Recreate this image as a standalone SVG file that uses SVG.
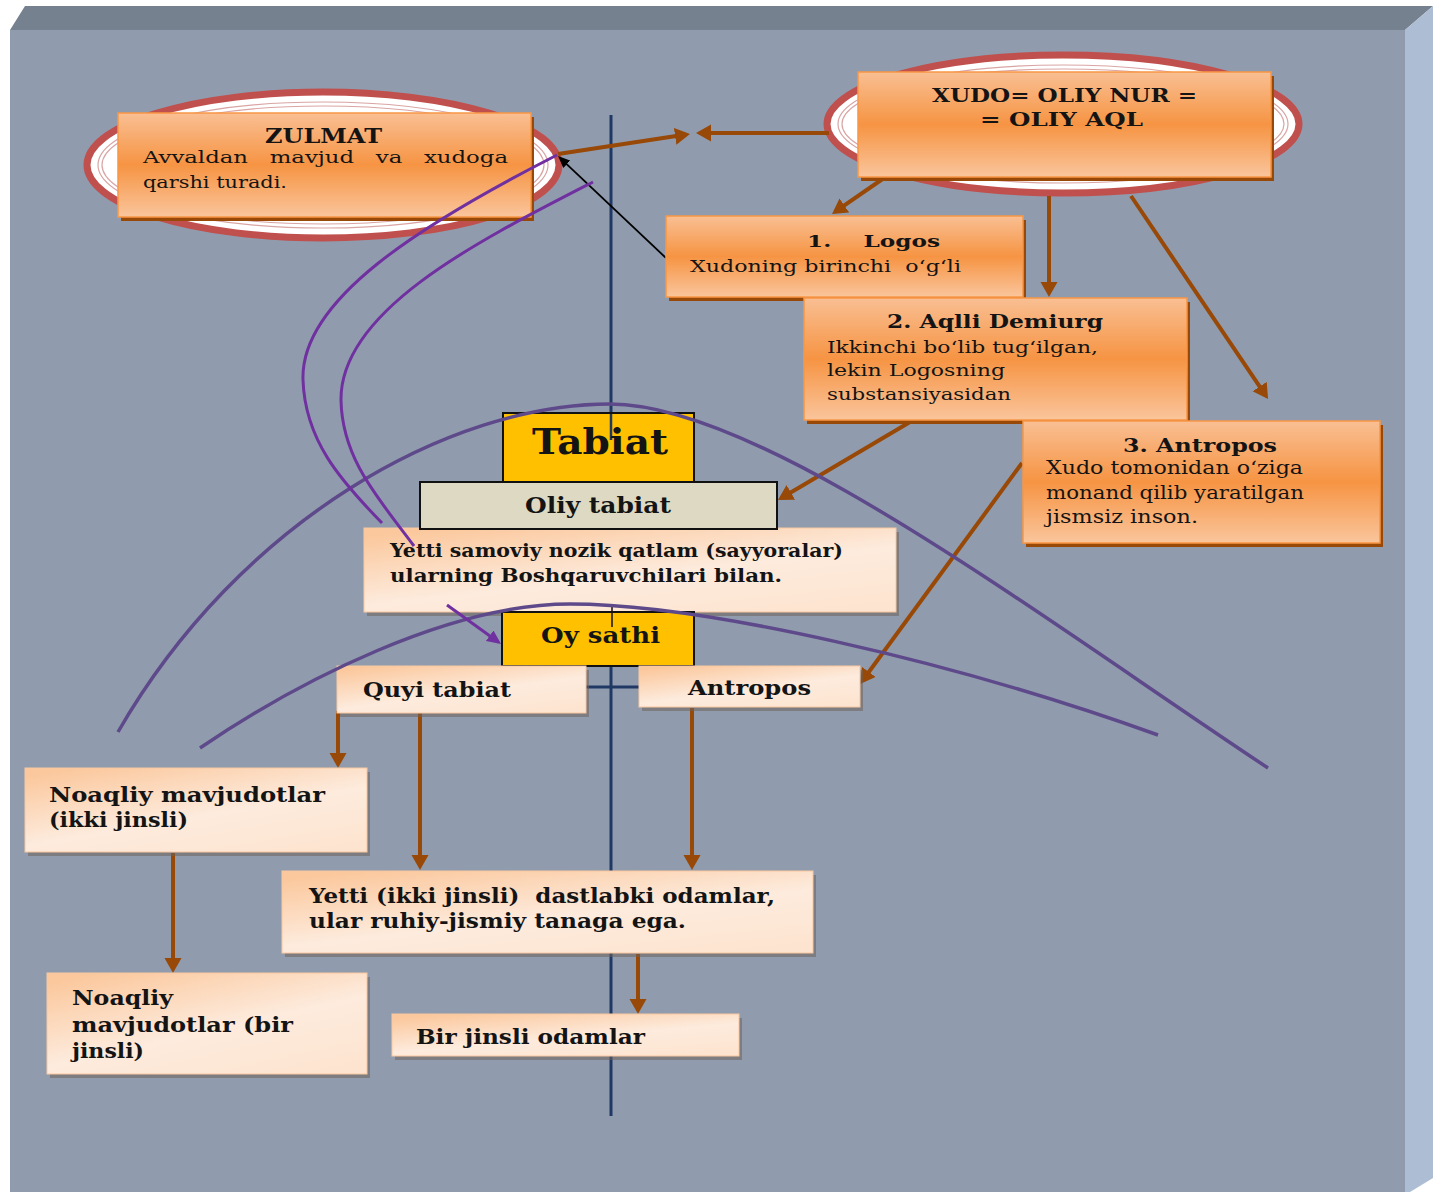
<svg xmlns="http://www.w3.org/2000/svg" width="1433" height="1192" viewBox="0 0 1433 1192">
<defs>
  <linearGradient id="gOr" x1="0" y1="0" x2="0" y2="1">
    <stop offset="0" stop-color="#f9bf93"/>
    <stop offset="0.5" stop-color="#f69443"/>
    <stop offset="1" stop-color="#fac59c"/>
  </linearGradient>
  <linearGradient id="gPe" x1="0.15" y1="0" x2="0.85" y2="1">
    <stop offset="0" stop-color="#fbc89d"/>
    <stop offset="0.55" stop-color="#fdebdd"/>
    <stop offset="1" stop-color="#fde4d0"/>
  </linearGradient>
  <marker id="mB" markerUnits="userSpaceOnUse" markerWidth="16" markerHeight="18" refX="11" refY="8.5" orient="auto">
    <path d="M0,0 L15,8.5 L0,17 z" fill="#984807"/>
  </marker>
  <marker id="mK" markerUnits="userSpaceOnUse" markerWidth="13" markerHeight="11" refX="10" refY="5" orient="auto">
    <path d="M0,0 L12,5 L0,10 z" fill="#000"/>
  </marker>
  <marker id="mP" markerUnits="userSpaceOnUse" markerWidth="15" markerHeight="14" refX="11" refY="6.5" orient="auto">
    <path d="M0,0 L14,6.5 L0,13 z" fill="#7030a0"/>
  </marker>
</defs>
<style>
  .ob{fill:url(#gOr);stroke:#f79646;stroke-width:1.5}
  .os{fill:#984807}
  .pb{fill:url(#gPe);stroke:#f9c7a0;stroke-width:1}
  .ps{fill:#6b625c;opacity:0.55}
  .yb{fill:#ffc000;stroke:#111;stroke-width:2}
  .gb{fill:#ddd9c3;stroke:#111;stroke-width:2}
  .el{fill:#fff;stroke:#c0504d;stroke-width:7}
  .ei{fill:none;stroke:#d9a5a4;stroke-width:1.2}
  .t{font-family:"DejaVu Serif","Liberation Serif",serif;fill:#141414}
  .b{font-weight:bold}
  .ar{fill:none;stroke:#984807;stroke-width:4;marker-end:url(#mB)}
  .pc{fill:none;stroke:#7030a0;stroke-width:3}
  .arc{fill:none;stroke:#5e4a8a;stroke-width:3.5}
  .ax{fill:none;stroke:#1f3864;stroke-width:3}
</style>

<!-- background frame -->
<rect x="0" y="0" width="1433" height="1192" fill="#ffffff"/>
<polygon points="10,30 25,6 1433,6 1405,30" fill="#76818f"/>
<rect x="10" y="30" width="1395" height="1162" fill="#909cae"/>
<polygon points="1405,30 1433,6 1433,1178 1410,1192 1405,1192" fill="#adbdd4"/>

<!-- ellipses behind top nodes -->
<g id="ellipses">
  <ellipse class="el" cx="323" cy="165" rx="236" ry="73"/>
  <ellipse class="ei" cx="323" cy="165" rx="225" ry="63"/>
  <ellipse class="ei" cx="323" cy="165" rx="221" ry="59" stroke="#ecc9c8"/>
  <ellipse class="el" cx="1063" cy="124" rx="236" ry="69"/>
  <ellipse class="ei" cx="1063" cy="124" rx="225" ry="59"/>
  <ellipse class="ei" cx="1063" cy="124" rx="221" ry="55" stroke="#ecc9c8"/>
</g>

<!-- axis lines -->
<g id="axis">
  <line class="ax" x1="611" y1="115" x2="611" y2="1116"/>
  <line class="ax" x1="585" y1="687" x2="640" y2="687"/>
</g>

<!-- connectors -->
<g id="connectors">
  <line class="ar" x1="829" y1="133" x2="700" y2="133"/>
  <line class="ar" x1="558" y1="154" x2="686" y2="134.6"/>
  <line class="ar" x1="884" y1="178" x2="835.3" y2="211.7"/>
  <line class="ar" x1="1049" y1="196" x2="1049" y2="293"/>
  <line class="ar" x1="1131" y1="196" x2="1265.8" y2="395.7"/>
  <line class="ar" x1="910" y1="422" x2="781.4" y2="498"/>
  <line class="ar" x1="1022" y1="463" x2="862.4" y2="680.8"/>
  <line class="ar" x1="338" y1="711" x2="338" y2="764"/>
  <line class="ar" x1="420" y1="711" x2="420" y2="866"/>
  <line class="ar" x1="692" y1="708" x2="692" y2="866"/>
  <line class="ar" x1="173" y1="853" x2="173" y2="969"/>
  <line class="ar" x1="638" y1="954" x2="638" y2="1010"/>
  <line x1="666" y1="258" x2="559.5" y2="157.4" stroke="#000" stroke-width="1.8" marker-end="url(#mK)"/>
</g>

<!-- nodes -->
<g id="zulmat">
  <rect class="os" x="121" y="117" width="413" height="104"/>
  <rect class="ob" x="118" y="113" width="413" height="104"/>
  <text class="t b" x="265" y="143" font-size="20" textLength="117" lengthAdjust="spacingAndGlyphs">ZULMAT</text>
  <text class="t" x="143" y="163" font-size="16" textLength="365" lengthAdjust="spacingAndGlyphs" xml:space="preserve">Avvaldan   mavjud   va   xudoga</text>
  <text class="t" x="143" y="188" font-size="16" textLength="144" lengthAdjust="spacingAndGlyphs">qarshi turadi.</text>
</g>

<g id="xudo">
  <rect class="os" x="861" y="76" width="413" height="105"/>
  <rect class="ob" x="858" y="72" width="413" height="105"/>
  <text class="t b" x="932" y="102" font-size="18" textLength="265" lengthAdjust="spacingAndGlyphs">XUDO= OLIY NUR =</text>
  <text class="t b" x="980" y="126" font-size="18" textLength="163" lengthAdjust="spacingAndGlyphs">= OLIY AQL</text>
</g>

<g id="logos">
  <rect class="os" x="669" y="220" width="357" height="81"/>
  <rect class="ob" x="666" y="216" width="357" height="81"/>
  <text class="t b" x="807" y="247" font-size="17" textLength="133" lengthAdjust="spacingAndGlyphs" xml:space="preserve">1.    Logos</text>
  <text class="t" x="690" y="272" font-size="17" textLength="271" lengthAdjust="spacingAndGlyphs" xml:space="preserve">Xudoning birinchi  o&#8216;g&#8216;li</text>
</g>

<g id="demiurg">
  <rect class="os" x="807" y="302" width="383" height="122"/>
  <rect class="ob" x="804" y="298" width="383" height="122"/>
  <text class="t b" x="887" y="328" font-size="18" textLength="216" lengthAdjust="spacingAndGlyphs">2. Aqlli Demiurg</text>
  <text class="t" x="827" y="353" font-size="17" textLength="271" lengthAdjust="spacingAndGlyphs">Ikkinchi bo&#8216;lib tug&#8216;ilgan,</text>
  <text class="t" x="827" y="376" font-size="17" textLength="178" lengthAdjust="spacingAndGlyphs">lekin Logosning</text>
  <text class="t" x="827" y="400" font-size="17" textLength="184" lengthAdjust="spacingAndGlyphs">substansiyasidan</text>
</g>

<g id="antropos3">
  <rect class="os" x="1026" y="425" width="357" height="122"/>
  <rect class="ob" x="1023" y="421" width="357" height="122"/>
  <text class="t b" x="1123" y="452" font-size="19" textLength="154" lengthAdjust="spacingAndGlyphs">3. Antropos</text>
  <text class="t" x="1046" y="474" font-size="18" textLength="257" lengthAdjust="spacingAndGlyphs">Xudo tomonidan o&#8216;ziga</text>
  <text class="t" x="1046" y="499" font-size="18" textLength="258" lengthAdjust="spacingAndGlyphs">monand qilib yaratilgan</text>
  <text class="t" x="1046" y="523" font-size="18" textLength="152" lengthAdjust="spacingAndGlyphs">jismsiz inson.</text>
</g>

<g id="yetti-samoviy">
  <rect class="ps" x="367" y="532" width="532" height="84"/>
  <rect class="pb" x="364" y="528" width="532" height="84"/>
  <text class="t b" x="390" y="557" font-size="18" textLength="453" lengthAdjust="spacingAndGlyphs">Yetti samoviy nozik qatlam (sayyoralar)</text>
  <text class="t b" x="390" y="582" font-size="18" textLength="392" lengthAdjust="spacingAndGlyphs">ularning Boshqaruvchilari bilan.</text>
</g>

<g id="tabiat">
  <rect class="yb" x="503" y="413" width="191" height="69"/>
  <line x1="611" y1="414" x2="611" y2="440" stroke="#1f3864" stroke-width="2.5"/>
  <text class="t b" x="532" y="454" font-size="36" textLength="136" lengthAdjust="spacingAndGlyphs">Tabiat</text>
</g>

<g id="oliy-tabiat">
  <rect class="gb" x="420" y="482" width="357" height="47"/>
  <text class="t b" x="525" y="513" font-size="23" textLength="146" lengthAdjust="spacingAndGlyphs">Oliy tabiat</text>
</g>

<g id="oy-sathi">
  <rect class="yb" x="502" y="612" width="192" height="54"/>
  <line x1="612" y1="605" x2="612" y2="627" stroke="#111" stroke-width="1.5"/>
  <text class="t b" x="541" y="643" font-size="23" textLength="119" lengthAdjust="spacingAndGlyphs">Oy sathi</text>
</g>

<g id="quyi-tabiat">
  <rect class="ps" x="340" y="670" width="249" height="47"/>
  <rect class="pb" x="337" y="666" width="249" height="47"/>
  <text class="t b" x="363" y="697" font-size="20" textLength="148" lengthAdjust="spacingAndGlyphs">Quyi tabiat</text>
</g>

<g id="antropos">
  <rect class="ps" x="642" y="670" width="221" height="41"/>
  <rect class="pb" x="639" y="666" width="221" height="41"/>
  <text class="t b" x="688" y="695" font-size="20" textLength="123" lengthAdjust="spacingAndGlyphs">Antropos</text>
</g>

<g id="noaqliy-ikki">
  <rect class="ps" x="28" y="772" width="342" height="84"/>
  <rect class="pb" x="25" y="768" width="342" height="84"/>
  <text class="t b" x="49" y="802" font-size="21" textLength="276" lengthAdjust="spacingAndGlyphs">Noaqliy mavjudotlar</text>
  <text class="t b" x="49" y="827" font-size="21" textLength="139" lengthAdjust="spacingAndGlyphs">(ikki jinsli)</text>
</g>

<g id="noaqliy-bir">
  <rect class="ps" x="50" y="977" width="320" height="101"/>
  <rect class="pb" x="47" y="973" width="320" height="101"/>
  <text class="t b" x="72" y="1005" font-size="21" textLength="101" lengthAdjust="spacingAndGlyphs">Noaqliy</text>
  <text class="t b" x="72" y="1032" font-size="21" textLength="221" lengthAdjust="spacingAndGlyphs">mavjudotlar (bir</text>
  <text class="t b" x="72" y="1058" font-size="21" textLength="72" lengthAdjust="spacingAndGlyphs">jinsli)</text>
</g>

<g id="yetti-odamlar">
  <rect class="ps" x="285" y="875" width="531" height="82"/>
  <rect class="pb" x="282" y="871" width="531" height="82"/>
  <text class="t b" x="309" y="903" font-size="21" textLength="466" lengthAdjust="spacingAndGlyphs" xml:space="preserve">Yetti (ikki jinsli)  dastlabki odamlar,</text>
  <text class="t b" x="309" y="928" font-size="21" textLength="377" lengthAdjust="spacingAndGlyphs">ular ruhiy-jismiy tanaga ega.</text>
</g>

<g id="bir-jinsli">
  <rect class="ps" x="395" y="1018" width="347" height="42"/>
  <rect class="pb" x="392" y="1014" width="347" height="42"/>
  <text class="t b" x="416" y="1044" font-size="21" textLength="229" lengthAdjust="spacingAndGlyphs">Bir jinsli odamlar</text>
</g>

<!-- curved overlays -->
<g id="curves">
  <path class="arc" d="M118,732 C240,520 450,404 610,404 C760,404 1030,610 1268,768"/>
  <path class="arc" d="M200,748 C300,680 450,604 570,604 C700,604 950,660 1158,735"/>
  <path class="pc" d="M557,155 C420,225 300,300 303,380 C305,440 340,480 382,523"/>
  <path class="pc" d="M593,182 C480,240 340,310 341,400 C342,460 380,500 414,546"/>
  <line x1="447" y1="605" x2="498.6" y2="642.2" stroke="#7030a0" stroke-width="3" marker-end="url(#mP)"/>
</g>
</svg>
